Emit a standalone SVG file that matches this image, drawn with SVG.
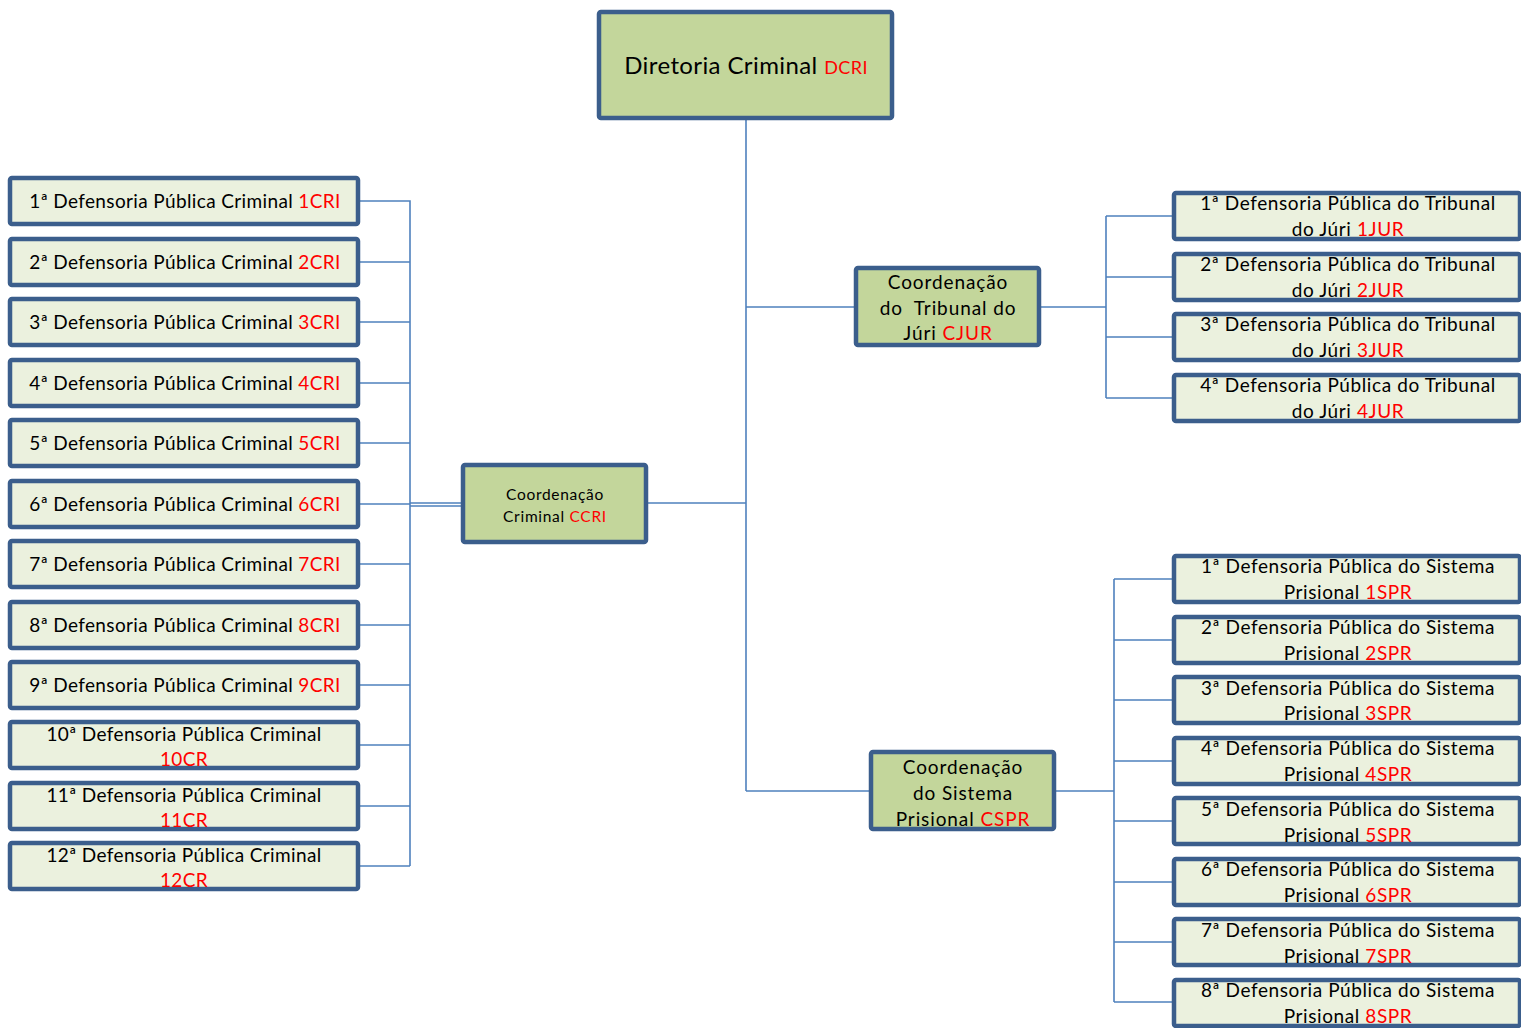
<svg xmlns="http://www.w3.org/2000/svg" width="1521" height="1028" viewBox="0 0 1521 1028">
<style>
.box{stroke:#3B5E8C;stroke-width:4.5;}
.main{fill:#C3D69B;}
.leaf{fill:#EBF1DE;}
text{font-family:Lato,"Liberation Sans",sans-serif;fill:#000;text-anchor:middle;}
.t{font-size:19px;letter-spacing:0.37px;}
.tr{font-size:19px;letter-spacing:0.6px;}
.tc{font-size:19px;letter-spacing:0.9px;white-space:pre;}
.r{fill:#FF0000;}
.conn{fill:none;stroke:#4F81BD;stroke-width:1.6;}
</style>
<rect width="1521" height="1028" fill="#fff"/>
<g id="connectors" class="conn">
<path d="M746,118V791M646,503H746M746,307H856M746,791H871"/>
<path d="M358,201H410V866M358,262H410M358,322H410M358,383H410M358,443H410M358,504H410M358,564H410M358,625H410M358,685H410M358,745H410M358,806H410M358,866H410M410,503H463M410,506H463"/>
<path d="M1039,307H1106M1106,216V398M1106,216H1174M1106,277H1174M1106,337H1174M1106,398H1174"/>
<path d="M1054,791H1114M1114,579V1002M1114,579H1174M1114,640H1174M1114,700H1174M1114,761H1174M1114,821H1174M1114,882H1174M1114,942H1174M1114,1002H1174"/>
</g>
<g id="dcri"><rect class="box main" x="599" y="12" width="293" height="106" rx="2"/><text x="746" y="74" style="font-size:24px;letter-spacing:0.4px">Diretoria Criminal <tspan class="r" style="font-size:18px">DCRI</tspan></text></g>
<g id="ccri"><rect class="box main" x="463" y="465" width="183" height="77" rx="2"/><text x="555" y="500" style="font-size:15.5px;letter-spacing:0.7px">Coordenação</text><text x="555" y="522" style="font-size:15.5px;letter-spacing:0.7px">Criminal <tspan class="r">CCRI</tspan></text></g>
<g id="cjur"><rect class="box main" x="856" y="268" width="183" height="77" rx="2"/><text class="tc" x="948" y="289">Coordenação</text><text class="tc" x="948" y="315">do  Tribunal do</text><text class="tc" x="948" y="340">Júri <tspan class="r">CJUR</tspan></text></g>
<g id="cspr"><rect class="box main" x="871" y="752" width="183" height="77" rx="2"/><text class="tc" x="963" y="774">Coordenação</text><text class="tc" x="963" y="800">do Sistema</text><text class="tc" x="963" y="826">Prisional <tspan class="r">CSPR</tspan></text></g>
<g id="cri1"><rect class="box leaf" x="10" y="178" width="348" height="46" rx="2"/><text class="t" x="185" y="208">1ª Defensoria Pública Criminal <tspan class="r">1CRI</tspan></text></g>
<g id="cri2"><rect class="box leaf" x="10" y="239" width="348" height="46" rx="2"/><text class="t" x="185" y="269">2ª Defensoria Pública Criminal <tspan class="r">2CRI</tspan></text></g>
<g id="cri3"><rect class="box leaf" x="10" y="299" width="348" height="46" rx="2"/><text class="t" x="185" y="329">3ª Defensoria Pública Criminal <tspan class="r">3CRI</tspan></text></g>
<g id="cri4"><rect class="box leaf" x="10" y="360" width="348" height="46" rx="2"/><text class="t" x="185" y="390">4ª Defensoria Pública Criminal <tspan class="r">4CRI</tspan></text></g>
<g id="cri5"><rect class="box leaf" x="10" y="420" width="348" height="46" rx="2"/><text class="t" x="185" y="450">5ª Defensoria Pública Criminal <tspan class="r">5CRI</tspan></text></g>
<g id="cri6"><rect class="box leaf" x="10" y="481" width="348" height="46" rx="2"/><text class="t" x="185" y="511">6ª Defensoria Pública Criminal <tspan class="r">6CRI</tspan></text></g>
<g id="cri7"><rect class="box leaf" x="10" y="541" width="348" height="46" rx="2"/><text class="t" x="185" y="571">7ª Defensoria Pública Criminal <tspan class="r">7CRI</tspan></text></g>
<g id="cri8"><rect class="box leaf" x="10" y="602" width="348" height="46" rx="2"/><text class="t" x="185" y="632">8ª Defensoria Pública Criminal <tspan class="r">8CRI</tspan></text></g>
<g id="cri9"><rect class="box leaf" x="10" y="662" width="348" height="46" rx="2"/><text class="t" x="185" y="692">9ª Defensoria Pública Criminal <tspan class="r">9CRI</tspan></text></g>
<g id="cri10"><rect class="box leaf" x="10" y="722" width="348" height="46" rx="2"/><text class="t" x="184" y="741">10ª Defensoria Pública Criminal</text><text class="t r" x="184" y="766">10CR</text></g>
<g id="cri11"><rect class="box leaf" x="10" y="783" width="348" height="46" rx="2"/><text class="t" x="184" y="802">11ª Defensoria Pública Criminal</text><text class="t r" x="184" y="827">11CR</text></g>
<g id="cri12"><rect class="box leaf" x="10" y="843" width="348" height="46" rx="2"/><text class="t" x="184" y="862">12ª Defensoria Pública Criminal</text><text class="t r" x="184" y="887">12CR</text></g>
<g id="jur1"><rect class="box leaf" x="1174" y="193" width="346" height="46" rx="2"/><text class="tr" x="1348" y="210">1ª Defensoria Pública do Tribunal</text><text class="tr" x="1348" y="236">do Júri <tspan class="r">1JUR</tspan></text></g>
<g id="jur2"><rect class="box leaf" x="1174" y="254" width="346" height="46" rx="2"/><text class="tr" x="1348" y="271">2ª Defensoria Pública do Tribunal</text><text class="tr" x="1348" y="297">do Júri <tspan class="r">2JUR</tspan></text></g>
<g id="jur3"><rect class="box leaf" x="1174" y="314" width="346" height="46" rx="2"/><text class="tr" x="1348" y="331">3ª Defensoria Pública do Tribunal</text><text class="tr" x="1348" y="357">do Júri <tspan class="r">3JUR</tspan></text></g>
<g id="jur4"><rect class="box leaf" x="1174" y="375" width="346" height="46" rx="2"/><text class="tr" x="1348" y="392">4ª Defensoria Pública do Tribunal</text><text class="tr" x="1348" y="418">do Júri <tspan class="r">4JUR</tspan></text></g>
<g id="spr1"><rect class="box leaf" x="1174" y="556" width="346" height="46" rx="2"/><text class="tr" x="1348" y="573">1ª Defensoria Pública do Sistema</text><text class="tr" x="1348" y="599">Prisional <tspan class="r">1SPR</tspan></text></g>
<g id="spr2"><rect class="box leaf" x="1174" y="617" width="346" height="46" rx="2"/><text class="tr" x="1348" y="634">2ª Defensoria Pública do Sistema</text><text class="tr" x="1348" y="660">Prisional <tspan class="r">2SPR</tspan></text></g>
<g id="spr3"><rect class="box leaf" x="1174" y="677" width="346" height="46" rx="2"/><text class="tr" x="1348" y="695">3ª Defensoria Pública do Sistema</text><text class="tr" x="1348" y="720">Prisional <tspan class="r">3SPR</tspan></text></g>
<g id="spr4"><rect class="box leaf" x="1174" y="738" width="346" height="46" rx="2"/><text class="tr" x="1348" y="755">4ª Defensoria Pública do Sistema</text><text class="tr" x="1348" y="781">Prisional <tspan class="r">4SPR</tspan></text></g>
<g id="spr5"><rect class="box leaf" x="1174" y="798" width="346" height="46" rx="2"/><text class="tr" x="1348" y="816">5ª Defensoria Pública do Sistema</text><text class="tr" x="1348" y="842">Prisional <tspan class="r">5SPR</tspan></text></g>
<g id="spr6"><rect class="box leaf" x="1174" y="859" width="346" height="46" rx="2"/><text class="tr" x="1348" y="876">6ª Defensoria Pública do Sistema</text><text class="tr" x="1348" y="902">Prisional <tspan class="r">6SPR</tspan></text></g>
<g id="spr7"><rect class="box leaf" x="1174" y="919" width="346" height="46" rx="2"/><text class="tr" x="1348" y="937">7ª Defensoria Pública do Sistema</text><text class="tr" x="1348" y="963">Prisional <tspan class="r">7SPR</tspan></text></g>
<g id="spr8"><rect class="box leaf" x="1174" y="980" width="346" height="46" rx="2"/><text class="tr" x="1348" y="997">8ª Defensoria Pública do Sistema</text><text class="tr" x="1348" y="1023">Prisional <tspan class="r">8SPR</tspan></text></g>
</svg>
